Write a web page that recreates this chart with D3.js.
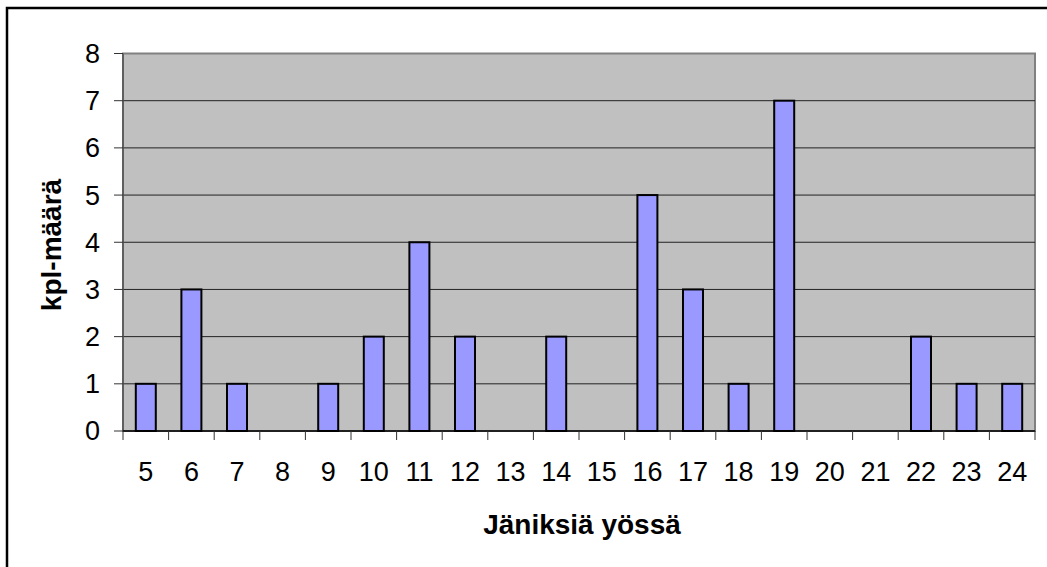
<!DOCTYPE html>
<html>
<head>
<meta charset="utf-8">
<script src="https://cdn.jsdelivr.net/npm/d3@7"></script>
<style>
  body { margin: 0; background: #fff; }
  text { font-family: "Liberation Sans", Arial, sans-serif; }
</style>
</head>
<body>
<svg id="chart" width="1047" height="567"></svg>
<script>
// kpl-määrä per jäniksiä yössä

var categories = ['5', '6', '7', '8', '9', '10', '11', '12', '13', '14', '15', '16', '17', '18', '19', '20', '21', '22', '23', '24'];
var counts = [1, 3, 1, 0, 1, 2, 4, 2, 0, 2, 0, 5, 3, 1, 7, 0, 0, 2, 1, 1];
var yTicks = [0, 1, 2, 3, 4, 5, 6, 7, 8];

var svg = d3.select("#chart");
var margin = {top: 53.5, right: 12, bottom: 136, left: 123};
var width = 1047 - margin.left - margin.right;
var height = 567 - margin.top - margin.bottom;

// outer frame (only top/left visible)
svg.append("rect")
    .attr("x", 7).attr("y", 8)
    .attr("width", 1100).attr("height", 600)
    .attr("fill", "none")
    .attr("stroke", "#000")
    .attr("stroke-width", 2.5);

var g = svg.append("g")
    .attr("transform", "translate(" + margin.left + "," + margin.top + ")");

var xc = d3.scaleBand().domain(categories).range([0, width]);
var y = d3.scaleLinear().domain([0, 8]).range([height, 0]);

// plot area
g.append("rect")
    .attr("width", width).attr("height", height)
    .attr("fill", "#c0c0c0")
    .attr("stroke", "#808080")
    .attr("stroke-width", 2);

// gridlines
g.selectAll(".grid")
    .data(yTicks.filter(function(d) { return d > 0 && d < 8; }))
    .enter().append("line")
    .attr("x1", 0).attr("x2", width)
    .attr("y1", function(d) { return y(d); })
    .attr("y2", function(d) { return y(d); })
    .attr("stroke", "#222")
    .attr("stroke-width", 1);

// bars
g.selectAll(".bar")
    .data(counts)
    .enter().append("rect")
    .attr("x", function(d, i) { return xc(categories[i]) + xc.bandwidth() / 2 - 10; })
    .attr("width", 20)
    .attr("y", function(d) { return y(d); })
    .attr("height", function(d) { return height - y(d); })
    .attr("fill", "#9999ff")
    .attr("stroke", "#000")
    .attr("stroke-width", 2)
    .style("display", function(d) { return d > 0 ? null : "none"; });

// y axis
var yAxis = g.append("g");
yAxis.append("line")
    .attr("x1", 0).attr("x2", 0).attr("y1", 0).attr("y2", height)
    .attr("stroke", "#555").attr("stroke-width", 1.5);
yAxis.selectAll(".ytick")
    .data(yTicks)
    .enter().append("line")
    .attr("x1", -9).attr("x2", 0)
    .attr("y1", function(d) { return y(d); })
    .attr("y2", function(d) { return y(d); })
    .attr("stroke", "#333");
yAxis.selectAll(".ylab")
    .data(yTicks)
    .enter().append("text")
    .attr("x", -23)
    .attr("y", function(d) { return y(d); })
    .attr("dy", "0.35em")
    .attr("text-anchor", "end")
    .attr("font-size", 27)
    .text(function(d) { return d; });

// x axis
var xAxis = g.append("g").attr("transform", "translate(0," + height + ")");
xAxis.append("line")
    .attr("x1", 0).attr("x2", width)
    .attr("stroke", "#000").attr("stroke-width", 1.5);
xAxis.selectAll(".xtick")
    .data(categories.concat(["end"]))
    .enter().append("line")
    .attr("x1", function(d, i) { return i * xc.step(); })
    .attr("x2", function(d, i) { return i * xc.step(); })
    .attr("y1", 0).attr("y2", 9)
    .attr("stroke", "#333");
xAxis.selectAll(".xlab")
    .data(categories)
    .enter().append("text")
    .attr("x", function(d) { return xc(d) + xc.bandwidth() / 2; })
    .attr("y", 50)
    .attr("text-anchor", "middle")
    .attr("font-size", 27)
    .text(function(d) { return d; });

// axis titles
svg.append("text")
    .attr("x", 582)
    .attr("y", 534)
    .attr("text-anchor", "middle")
    .attr("font-size", 28)
    .attr("font-weight", "bold")
    .text("Jäniksiä yössä");

svg.append("text")
    .attr("transform", "translate(61,245) rotate(-90)")
    .attr("text-anchor", "middle")
    .attr("font-size", 28)
    .attr("font-weight", "bold")
    .text("kpl-määrä");
</script>
</body>
</html>
